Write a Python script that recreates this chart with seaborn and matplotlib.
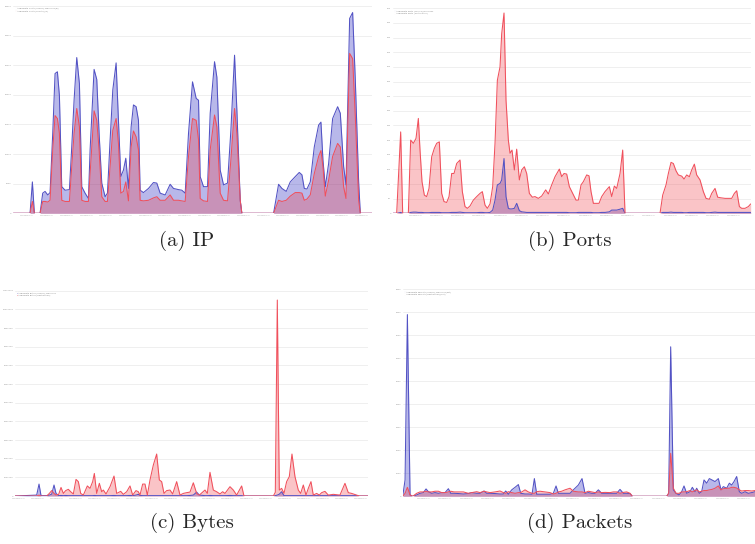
import matplotlib.pyplot as plt
import seaborn as sns
from matplotlib.patches import Patch

# (a) IP: hosts per hour, in thousands
ip_hours = [0, 5, 5.7, 6.3, 8, 8.8, 9.5, 10.3, 11, 11.8,
            12.5, 13.2, 13.8, 14.5, 15.5, 16.8, 17.5, 18.2, 19, 19.8,
            20.5, 21.5, 22.5, 23, 24.2, 25, 25.7, 26.5, 27.5, 28.2,
            29, 29.8, 30.8, 31.5, 32.2, 33, 33.7, 34.5, 35.3, 36,
            36.8, 37.5, 38, 39, 40.5, 42, 43, 44, 45.5, 47,
            48, 49.5, 50.5, 51.5, 52.5, 53.7, 54.8, 55.5, 56, 57,
            58.2, 59, 60.3, 61, 62, 63, 64.2, 65.2, 66.3, 67,
            68, 68.5, 78, 79.5, 80.5, 81.8, 83, 84.5, 85.7, 86.5,
            87.2, 88, 89, 90.2, 91.5, 92.2, 92.8, 93.5, 94.5, 95.7,
            97.2, 98, 99, 99.7, 100.8, 101.7, 102.5, 103.5, 104, 107.5]
ip_malicious = [0, 0, 5.3, 0, 0, 3.4, 3.7, 3.1, 3.5, 13.5,
                23.6, 23.9, 19.9, 4.5, 3.9, 4.0, 11.2, 19.1, 26.3, 21.9,
                4.5, 3.4, 2.5, 10.7, 24.3, 22.6, 13.5, 5.1, 2.8, 3.4,
                12.4, 20.8, 25.4, 15.7, 6.2, 7.3, 9.3, 4.2, 14.6, 18.3,
                18.0, 15.7, 3.9, 3.5, 4.2, 5.2, 5.1, 3.4, 3.1, 4.9,
                4.2, 4.0, 3.9, 3.4, 13.5, 22.2, 19.4, 19.1, 6.2, 4.5,
                4.5, 16.9, 25.6, 23.0, 7.3, 4.8, 5.1, 14.0, 26.7, 17.4,
                2.2, 0, 0, 4.9, 4.2, 3.7, 5.3, 6.2, 6.9, 6.5,
                4.2, 4.1, 5.3, 11.2, 14.9, 15.4, 9.0, 4.5, 8.4, 16.0,
                18.0, 16.9, 7.9, 4.8, 32.9, 33.9, 22.5, 5.3, 0, 0]
ip_private = [0, 0, 2.0, 0, 0, 2.0, 2.0, 1.9, 2.2, 10.7,
              16.5, 16.0, 13.5, 2.2, 2.0, 2.0, 7.9, 13.5, 17.7, 14.6,
              2.2, 2.0, 2.0, 6.7, 17.3, 15.7, 10.7, 2.8, 2.0, 2.0,
              7.9, 14.0, 16.0, 11.8, 3.4, 3.7, 5.3, 2.1, 11.2, 13.9,
              12.9, 10.7, 2.2, 2.1, 2.2, 2.6, 2.8, 2.2, 2.2, 3.1,
              2.2, 2.2, 2.1, 2.0, 9.6, 16.0, 15.7, 12.4, 2.5, 2.1,
              2.0, 10.7, 16.6, 14.6, 3.4, 2.2, 2.1, 9.0, 17.7, 13.5,
              2.2, 0, 0, 2.2, 2.0, 2.2, 2.9, 3.5, 3.5, 3.4,
              2.2, 2.4, 3.1, 6.7, 9.6, 10.6, 7.9, 2.9, 5.6, 9.6,
              11.8, 11.2, 4.5, 2.5, 27.0, 26.1, 16.3, 2.2, 0, 0]

# (b) Ports: distinct ports per hour
port_hours = [0, 1.2, 2.4, 3, 4.7, 5.4, 6.2, 7, 7.7, 8.2,
              8.8, 9.5, 10.2, 10.9, 11.7, 12.5, 13.2, 14, 14.7, 15.4,
              16.2, 16.9, 17.7, 18.4, 19.2, 20.2, 20.9, 21.7, 22.4, 23.2,
              24.2, 25.2, 26.2, 26.9, 27.7, 28.4, 29.2, 30, 30.7, 31.4,
              32.2, 32.7, 33.4, 34, 34.7, 35.2, 35.8, 36.5, 37.2, 38,
              38.7, 39.5, 40.2, 41, 41.9, 42.7, 43.7, 44.7, 45.9, 46.7,
              47.7, 48.7, 50, 50.7, 51.4, 52.2, 53, 54, 55, 55.7,
              56.5, 57.2, 58.2, 58.9, 59.5, 60.2, 60.9, 61.9, 62.7, 63.7,
              65, 65.7, 66.5, 67.2, 68.2, 69, 69.7, 80.2, 81, 82,
              82.7, 83.5, 84.2, 85, 85.7, 86.7, 87.4, 88.2, 89, 89.7,
              90.5, 91.2, 92.2, 93.2, 94, 95, 95.7, 96.7, 97.5, 98.4,
              99.7, 101.7, 102.5, 103.2, 104, 104.7, 105.7, 106.7, 107.4]
port_malicious = [0, 0, 3, 0, 0, 3, 4, 4, 3, 3,
                  3, 2, 2, 2, 3, 3, 3, 3, 2, 2,
                  2, 2, 3, 3, 3, 4, 3, 2, 2, 2,
                  2, 2, 3, 3, 2, 2, 3, 11, 45, 97,
                  102, 114, 187, 57, 17, 15, 15, 17, 34, 9,
                  5, 4, 3, 3, 3, 3, 3, 3, 3, 3,
                  3, 3, 3, 3, 3, 3, 2, 2, 2, 3,
                  3, 3, 3, 3, 3, 2, 2, 2, 3, 3,
                  5, 11, 11, 11, 14, 17, 0, 0, 3, 3,
                  3, 4, 3, 3, 3, 3, 2, 2, 3, 3,
                  3, 3, 3, 3, 2, 2, 3, 4, 3, 3,
                  3, 3, 3, 3, 3, 3, 3, 3, 3]
port_destination = [0, 0, 278, 0, 0, 250, 239, 256, 324, 216,
                    108, 62, 57, 85, 193, 222, 239, 244, 68, 40,
                    37, 57, 136, 136, 170, 182, 74, 23, 17, 25,
                    45, 57, 68, 74, 28, 17, 32, 91, 239, 454,
                    500, 613, 684, 386, 250, 205, 216, 148, 219, 114,
                    148, 159, 136, 68, 55, 57, 51, 59, 80, 66,
                    97, 125, 151, 125, 136, 134, 91, 68, 45, 45,
                    97, 108, 131, 128, 74, 34, 34, 34, 57, 74,
                    91, 57, 93, 85, 136, 216, 0, 0, 62, 97,
                    136, 174, 170, 145, 131, 127, 117, 131, 125, 148,
                    168, 131, 114, 74, 51, 48, 68, 85, 55, 53,
                    51, 51, 68, 77, 23, 17, 17, 23, 32]

# (c) Bytes: per hour, in millions
byte_hours = [0, 6.5, 7.2, 7.8, 9.5, 10.3, 11, 11.7, 12.3, 13.1,
              13.8, 14.5, 15.2, 16, 16.7, 17.5, 18.3, 19, 19.7, 20.5,
              21.7, 22.5, 23.3, 23.8, 24.5, 25.3, 26, 26.5, 27.3, 28.5,
              29.7, 30.5, 31.7, 32.5, 33.5, 34.5, 35.3, 36.3, 37, 37.5,
              38.3, 39, 39.7, 40.5, 41.5, 42.5, 43.3, 44, 44.7, 45.5,
              46.5, 47.3, 48.5, 49.5, 50.5, 51.5, 52.5, 53.5, 54.5, 55.3,
              57, 57.7, 58.5, 59.5, 60.5, 61.5, 62.3, 63, 64.5, 65.5,
              66.5, 68, 68.7, 77.5, 78.1, 78.7, 79.3, 80, 80.7, 81.5,
              82.3, 83.1, 84, 85, 85.7, 86.5, 87.3, 88, 88.8, 89.5,
              90.5, 91.3, 92, 93, 94, 95.5, 97.5, 99, 100, 101,
              102.5, 103.3, 106]
byte_malicious = [0, 0.05, 0.64, 0.02, 0.02, 0.05, 0.1, 0.59, 0.14, 0.02,
                  0.03, 0.02, 0.03, 0.02, 0.02, 0.02, 0.02, 0.02, 0.02, 0.02,
                  0.02, 0.02, 0.02, 0.03, 0.02, 0.02, 0.02, 0.02, 0.02, 0.02,
                  0.03, 0.02, 0.02, 0.02, 0.02, 0.03, 0.02, 0.05, 0.09, 0.03,
                  0.02, 0.02, 0.02, 0.02, 0.02, 0.02, 0.02, 0.02, 0.02, 0.02,
                  0.02, 0.02, 0.02, 0.02, 0.02, 0.02, 0.03, 0.05, 0.21, 0.05,
                  0.02, 0.02, 0.03, 0.02, 0.02, 0.02, 0.02, 0.02, 0.03, 0.02,
                  0.02, 0.02, 0, 0, 0.02, 0.05, 0.1, 0.23, 0.02, 0.02,
                  0.02, 0.02, 0.02, 0.02, 0.02, 0.02, 0.02, 0.02, 0.02, 0.02,
                  0.02, 0.02, 0.02, 0.02, 0.02, 0.02, 0.02, 0.02, 0.02, 0.02,
                  0.02, 0, 0]
byte_destination = [0, 0, 0.05, 0, 0, 0.14, 0.29, 0.14, 0.05, 0.09,
                    0.46, 0.14, 0.29, 0.36, 0.23, 0.11, 0.89, 0.77, 0.14, 0.05,
                    0.54, 0.41, 0.77, 1.21, 0.14, 0.68, 0.23, 0.32, 0.11, 0.5,
                    1.07, 0.14, 0.25, 0.09, 0.23, 0.54, 0.05, 0.29, 0.23, 0.05,
                    0.64, 0.64, 0.05, 0.86, 1.66, 2.25, 0.86, 0.77, 0.14, 0.29,
                    0.32, 0.11, 0.77, 0.05, 0.14, 0.18, 0.21, 0.71, 0.14, 0.05,
                    0.32, 0.14, 1.27, 0.32, 0.23, 0.11, 0.23, 0.14, 0.5, 0.32,
                    0.05, 0.54, 0, 0, 0.2, 10.5, 0.32, 0.41, 0.14, 0.77,
                    1.04, 2.25, 1.04, 0.32, 0.14, 0.59, 0.05, 0.41, 0.77, 0.05,
                    0.14, 0.05, 0.18, 0.25, 0.05, 0.09, 0.05, 0.68, 0.18, 0.14,
                    0.05, 0, 0]

# (d) Packets: per hour, in thousands
pkt_hours = [0, 0.7, 1.4, 2.2, 3, 4.2, 5.2, 6.2, 7, 7.7,
             8.7, 9.7, 10.7, 11.7, 12.7, 13.7, 14.4, 15.4, 16.7, 18.2,
             19.7, 20.7, 22.2, 23.2, 24.4, 25.2, 26.2, 27.7, 29.2, 30.2,
             30.9, 31.7, 32.7, 33.7, 34.7, 35.4, 36.7, 37.7, 38.8, 39.5,
             40.2, 41.2, 42.7, 44.2, 45.2, 46, 46.7, 47.7, 48.7, 50.2,
             51.2, 52.7, 53.8, 54.7, 55.7, 56.7, 57.7, 58.7, 59.7, 60.7,
             62.2, 63.2, 64.2, 65.2, 66.2, 67.2, 68.2, 68.9, 79.2, 79.8,
             80.4, 81.2, 82, 82.9, 83.7, 84.4, 85.2, 86.2, 86.9, 87.7,
             88.2, 89, 89.7, 90.4, 91.2, 92, 92.8, 93.7, 94.7, 95.5,
             96.2, 97.2, 98, 98.7, 99.4, 100.2, 101, 101.7, 102.7, 103.7,
             104.7, 105.7]
pkt_malicious = [0, 0.71, 7.9, 0.06, 0, 0.06, 0.13, 0.16, 0.32, 0.2,
                 0.13, 0.16, 0.13, 0.16, 0.16, 0.33, 0.13, 0.13, 0.12, 0.1,
                 0.12, 0.16, 0.13, 0.13, 0.23, 0.13, 0.13, 0.12, 0.1, 0.1,
                 0.23, 0.09, 0.28, 0.39, 0.51, 0.13, 0.1, 0.1, 0.09, 0.77,
                 0.09, 0.09, 0.09, 0.09, 0.13, 0.45, 0.13, 0.13, 0.13, 0.13,
                 0.28, 0.49, 0.77, 0.13, 0.16, 0.13, 0.13, 0.28, 0.13, 0.13,
                 0.13, 0.13, 0.13, 0.3, 0.13, 0.13, 0.12, 0, 0, 0.13,
                 6.5, 0.28, 0.13, 0.06, 0.2, 0.45, 0.13, 0.2, 0.39, 0.2,
                 0.35, 0.13, 0.2, 0.71, 0.57, 0.77, 0.71, 0.64, 0.77, 0.28,
                 0.42, 0.35, 0.57, 0.49, 0.64, 0.86, 0.2, 0.13, 0.2, 0.13,
                 0.16, 0.2]
pkt_destination = [0, 0.13, 0.39, 0.06, 0, 0.13, 0.19, 0.19, 0.22, 0.19,
                   0.19, 0.22, 0.22, 0.16, 0.16, 0.19, 0.22, 0.19, 0.19, 0.19,
                   0.13, 0.16, 0.2, 0.16, 0.22, 0.19, 0.16, 0.19, 0.23, 0.16,
                   0.13, 0.2, 0.16, 0.13, 0.16, 0.16, 0.28, 0.19, 0.13, 0.13,
                   0.2, 0.22, 0.19, 0.16, 0.1, 0.13, 0.19, 0.22, 0.28, 0.35,
                   0.22, 0.19, 0.19, 0.16, 0.22, 0.19, 0.16, 0.19, 0.16, 0.17,
                   0.16, 0.19, 0.19, 0.13, 0.17, 0.19, 0.13, 0, 0, 0.13,
                   1.87, 0.35, 0.13, 0.13, 0.19, 0.19, 0.2, 0.25, 0.19, 0.25,
                   0.28, 0.19, 0.22, 0.25, 0.25, 0.28, 0.3, 0.35, 0.45, 0.28,
                   0.33, 0.35, 0.35, 0.39, 0.39, 0.36, 0.28, 0.23, 0.25, 0.25,
                   0.23, 0.25]

DATE_LABELS = ["2019-08-16 04:00", "2019-08-16 10:00", "2019-08-16 16:00",
               "2019-08-16 22:00", "2019-08-17 04:00", "2019-08-17 10:00",
               "2019-08-17 16:00", "2019-08-17 22:00", "2019-08-18 04:00",
               "2019-08-18 10:00", "2019-08-18 16:00", "2019-08-18 22:00",
               "2019-08-19 04:00", "2019-08-19 10:00", "2019-08-19 16:00",
               "2019-08-19 22:00", "2019-08-20 04:00", "2019-08-20 10:00",
               "2019-08-20 16:00"]

BLUE_LINE = "#5252c4"
BLUE_FILL = "#0000b4"
RED_LINE = "#f0505c"
RED_FILL = "#f03c46"


def draw_panel(ax, hours, blue, red, legend, ymax, ystep, yscale,
               xmax, tick0, tickstep, caption, cap_xy):
    ax.fill_between(hours, blue, color=BLUE_FILL, alpha=0.28, linewidth=0)
    ax.fill_between(hours, red, color=RED_FILL, alpha=0.3, linewidth=0)
    sns.lineplot(x=hours, y=blue, ax=ax, color=BLUE_LINE, linewidth=0.75,
                 estimator=None, sort=False)
    sns.lineplot(x=hours, y=red, ax=ax, color=RED_LINE, linewidth=0.75,
                 estimator=None, sort=False)

    ax.set_xlim(0, xmax)
    ax.set_ylim(0, ymax)
    yt = [i * ystep for i in range(int(round(ymax / ystep)) + 1)]
    ax.set_yticks(yt)
    ax.set_yticklabels([f"{int(round(v * yscale))}" for v in yt])
    xt = [tick0 + i * tickstep for i in range(len(DATE_LABELS))
          if tick0 + i * tickstep < xmax]
    ax.set_xticks(xt)
    ax.set_xticklabels(DATE_LABELS[:len(xt)], fontsize=1.0)

    ax.grid(axis="y", color="#ededed", linewidth=0.6)
    ax.grid(axis="x", visible=False)
    ax.set_axisbelow(True)
    for s in ax.spines.values():
        s.set_visible(False)
    ax.tick_params(axis="both", length=0, pad=1.2, labelcolor="#999999")
    ax.tick_params(axis="y", labelsize=1.6)
    ax.set_xlabel("")
    ax.set_ylabel("")

    handles = [Patch(facecolor=BLUE_LINE), Patch(facecolor=RED_LINE)]
    ax.legend(handles, legend, loc="upper left", bbox_to_anchor=(0.0, 1.0),
              fontsize=1.5, frameon=False, handlelength=0.7, handleheight=0.9,
              handletextpad=0.3, borderaxespad=0.2, labelspacing=0.15,
              labelcolor="#888888")

    ax.figure.text(cap_xy[0], cap_xy[1], caption, ha="center", va="center",
                   fontsize=15, family="cmr10")


def main() -> None:
    sns.set_theme(style="white")
    fig = plt.figure(figsize=(7.55, 5.44), dpi=100)

    ax_a = fig.add_axes([0.0177, 0.6079, 0.475, 0.381])
    ax_b = fig.add_axes([0.5201, 0.6079, 0.4742, 0.3768])
    ax_c = fig.add_axes([0.0199, 0.0882, 0.4679, 0.3774])
    ax_d = fig.add_axes([0.5334, 0.0877, 0.4666, 0.3805])

    draw_panel(ax_a, ip_hours, ip_malicious, ip_private,
               ["Aggregate Hosts (Source) Malicious(IP)", "Aggregate Hosts (Private)(IP)"],
               35, 5, 1000, 107.5, 4.0, 5.9, "(a) IP", (0.2477, 0.557))
    draw_panel(ax_b, port_hours, port_malicious, port_destination,
               ["Aggregate Ports (Source) Malicious", "Aggregate Ports (Destination)"],
               700, 50, 1, 107.4, 6.7, 6.37, "(b) Ports", (0.755, 0.557))
    draw_panel(ax_c, byte_hours, byte_malicious, byte_destination,
               ["Aggregate Bytes (Source) Malicious", "Aggregate Bytes (Destination)"],
               11, 1, 1000000, 106, 1.0, 5.7, "(c) Bytes", (0.254, 0.0386))
    draw_panel(ax_d, pkt_hours, pkt_malicious, pkt_destination,
               ["Aggregate Packets (Source) Malicious(Pkt)", "Aggregate Packets (Destination)(Pkt)"],
               9, 1, 1000, 105.7, 6.2, 6.4, "(d) Packets", (0.7675, 0.0386))

    fig.savefig("out.png", dpi=100)


if __name__ == "__main__":
    main()
